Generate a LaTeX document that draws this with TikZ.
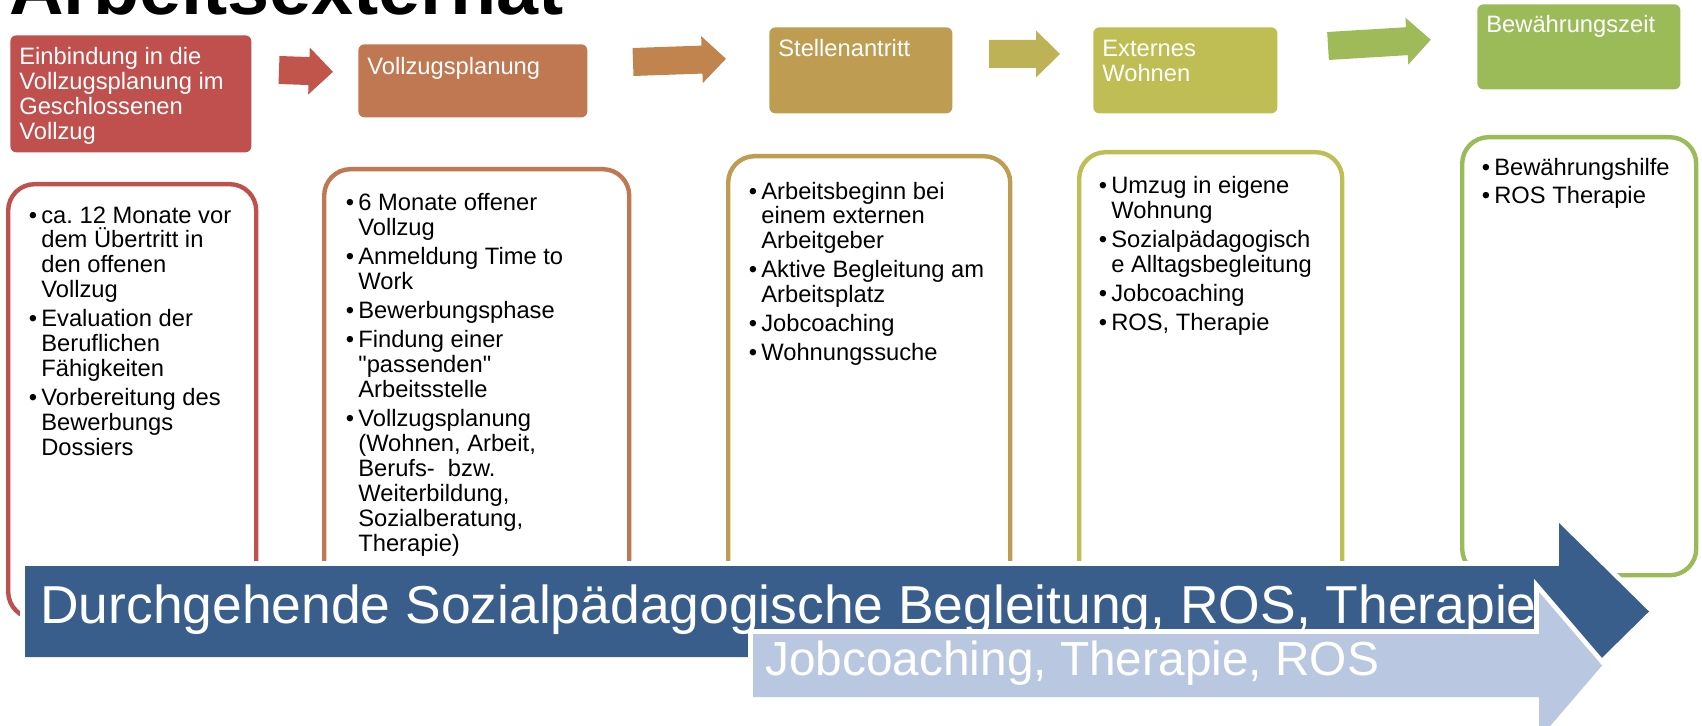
\documentclass[tikz,border=0pt]{standalone}
\usepackage{fontspec}
\setmainfont{Liberation Sans}[Ligatures=TeXOff]
\usetikzlibrary{calc,positioning}
\frenchspacing

\definecolor{cRed}{HTML}{C0504D}
\definecolor{cOrange}{HTML}{BF7852}
\definecolor{cGold}{HTML}{BE9C52}
\definecolor{cOlive}{HTML}{BEBE54}
\definecolor{cGreen}{HTML}{9BBB59}
\definecolor{cArrOne}{HTML}{C1554C}
\definecolor{cArrTwo}{HTML}{C2844F}
\definecolor{cArrThree}{HTML}{BEB256}
\definecolor{cArrFour}{HTML}{9FBB59}
\definecolor{cDarkBlue}{HTML}{3A5E8C}
\definecolor{cLightBlue}{HTML}{B9C7E0}

\newcommand{\pxu}{0.02cm}
\newcommand{\bul}{\leavevmode\llap{\textbullet\hspace{2.4pt}}}
% block arrow: colour, x, y (middle of left end), length, angle
\newcommand{\steparrow}[5]{%
  \fill[#1, rotate around={#5:(#2,#3)}] (#2,#3-14) -- (#2+#4-24,#3-14)
    -- (#2+#4-24,#3-23.5) -- (#2+#4,#3) -- (#2+#4-24,#3+23.5)
    -- (#2+#4-24,#3+14) -- (#2,#3+14) -- cycle;}

\tikzset{
  hbox/.style={rectangle, rounded corners=3.4pt, anchor=north west, inner sep=0pt},
  lbox/.style={rectangle, rounded corners=15pt, anchor=north west, fill=white,
    line width=2.5pt, inner sep=0pt},
  htext/.style={anchor=base west, inner sep=0pt, text=white,
    font=\fontsize{13.5}{14.2}\selectfont},
  ltext/.style={anchor=base west, inner sep=0pt,
    font=\fontsize{13.5}{14.2}\selectfont},
  halo/.style={preaction={draw=white, line width=5.5pt}},
}

\begin{document}
\begin{tikzpicture}[x=0.02cm, y=-0.02cm]
\useasboundingbox (0,0) rectangle (1702,726);

% title, cut off by the upper edge
\node[anchor=base west, inner sep=0pt, font=\bfseries\fontsize{43}{43}\selectfont]
  (title) at (9,15) {Arbeitsexternat};

% phases
\node[hbox, fill=cRed, minimum width=241*\pxu, minimum height=117*\pxu] (h1) at (10,35) {};
\node[hbox, fill=cOrange, minimum width=229*\pxu, minimum height=73*\pxu] (h2) at (358,44) {};
\node[hbox, fill=cGold, minimum width=183*\pxu, minimum height=86*\pxu] (h3) at (769,27) {};
\node[hbox, fill=cOlive, minimum width=184*\pxu, minimum height=86*\pxu] (h4) at (1093,27) {};
\node[hbox, fill=cGreen, minimum width=203*\pxu, minimum height=85*\pxu] (h5) at (1477,4) {};

\node[htext] (h1t) at ($(h1.north west)+(9,30)$)
  {\parbox[t]{5cm}{Einbindung in die\\Vollzugsplanung im\\Geschlossenen\\Vollzug}};
\node[htext] (h2t) at ($(h2.north west)+(9,31)$) {Vollzugsplanung};
\node[htext] (h3t) at ($(h3.north west)+(9,30)$) {Stellenantritt};
\node[htext] (h4t) at ($(h4.north west)+(9,30)$) {\parbox[t]{5cm}{Externes\\Wohnen}};
\node[htext] (h5t) at ($(h5.north west)+(9,29)$) {Bewährungszeit};

\steparrow{cArrOne}{279}{70}{54}{-2}
\steparrow{cArrTwo}{633}{62}{93}{2}
\steparrow{cArrThree}{989}{54}{71}{0}
\steparrow{cArrFour}{1328}{46}{103}{3.5}

% details per phase
\node[lbox, draw=cRed, minimum width=248*\pxu, minimum height=434*\pxu] (l1) at (6,182) {};
\node[lbox, draw=cOrange, minimum width=305*\pxu, minimum height=448*\pxu] (l2) at (322,167) {};
\node[lbox, draw=cGold, minimum width=282*\pxu, minimum height=462*\pxu] (l3) at (726,154) {};
\node[lbox, draw=cOlive, minimum width=263*\pxu, minimum height=466*\pxu] (l4) at (1077,150) {};
\node[lbox, draw=cGreen, minimum width=234*\pxu, minimum height=438*\pxu] (l5) at (1460,135) {};

\node[ltext] (l1t) at ($(l1.north west)+(35,41)$) {\parbox[t]{6cm}{%
  \bul ca. 12 Monate vor\\dem Übertritt in\\den offenen\\Vollzug\\[2.3pt]
  \bul Evaluation der\\Beruflichen\\Fähigkeiten\\[2.3pt]
  \bul Vorbereitung des\\Bewerbungs\\Dossiers}};
\node[ltext] (l2t) at ($(l2.north west)+(36,44)$) {\parbox[t]{6cm}{%
  \bul 6 Monate offener\\Vollzug\\[2.3pt]
  \bul Anmeldung Time to\\Work\\[2.3pt]
  \bul Bewerbungsphase\\[2.3pt]
  \bul Findung einer\\"passenden"\\Arbeitsstelle\\[2.3pt]
  \bul Vollzugsplanung\\(Wohnen, Arbeit,\\Berufs-\ \ bzw.\\Weiterbildung,\\Sozialberatung,\\Therapie)}};
\node[ltext] (l3t) at ($(l3.north west)+(35,45)$) {\parbox[t]{6cm}{%
  \bul Arbeitsbeginn bei\\einem externen\\Arbeitgeber\\[2.3pt]
  \bul Aktive Begleitung am\\Arbeitsplatz\\[2.3pt]
  \bul Jobcoaching\\[2.3pt]
  \bul Wohnungssuche}};
\node[ltext] (l4t) at ($(l4.north west)+(34,44)$) {\parbox[t]{6cm}{%
  \bul Umzug in eigene\\Wohnung\\[2.3pt]
  \bul Sozialpädagogisch\\e Alltagsbegleitung\\[2.3pt]
  \bul Jobcoaching\\[2.3pt]
  \bul ROS, Therapie}};
\node[ltext] (l5t) at ($(l5.north west)+(34,40)$) {\parbox[t]{6cm}{%
  \bul Bewährungshilfe\\[2.3pt]
  \bul ROS Therapie}};

% continuous support
\fill[cDarkBlue, halo] (25,566) -- (1559,566) -- (1559,523) -- (1649,611.5)
  -- (1559,700) -- (1559,657) -- (25,657) -- cycle;
\fill[cLightBlue, halo] (753,634) -- (1539,634) -- (1539,592) -- (1602,665.5)
  -- (1539,739) -- (1539,697) -- (753,697) -- cycle;
\node[anchor=base west, inner sep=0pt, text=white, font=\fontsize{30.4}{30.4}\selectfont]
  (durch) at (40,623) {Durchgehende Sozialpädagogische Begleitung, ROS, Therapie};
\node[anchor=base west, inner sep=0pt, text=white, font=\fontsize{27.2}{27.2}\selectfont]
  (job) at (765,675) {Jobcoaching, Therapie, ROS};
\end{tikzpicture}
\end{document}
